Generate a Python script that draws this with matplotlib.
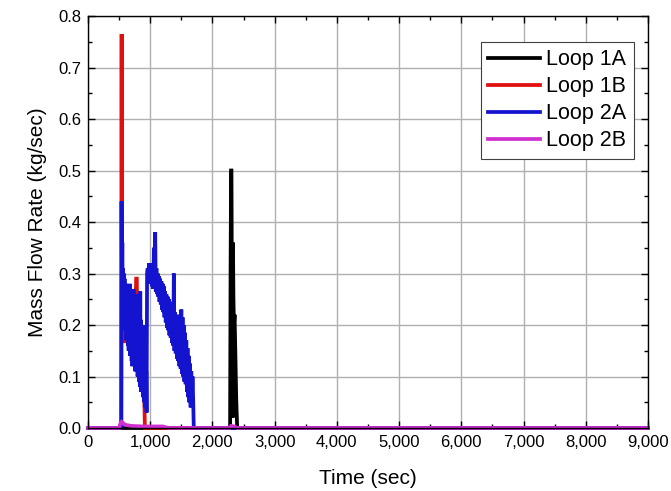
import matplotlib
matplotlib.use("Agg")
import matplotlib.pyplot as plt
from matplotlib.ticker import MultipleLocator, FuncFormatter

plt.rcParams['font.family'] = ['Liberation Sans', 'DejaVu Sans']

# ---- data ----
loop1a_t = [0, 2280, 2284, 2292, 2300, 2306, 2312, 2318, 2324, 2330, 2338, 2346, 2356, 2368, 2382, 2398, 9000]
loop1a_v = [0, 0, 0.0, 0.31, 0.50, 0.50, 0.30, 0.12, 0.02, 0.36, 0.25, 0.20, 0.22, 0.15, 0.06, 0.0, 0.0]

loop1b_t = [0, 520, 534, 538, 541, 544, 548, 554, 560, 566, 572, 578, 586, 594, 602, 610, 618, 626, 634,
            642, 650, 660, 670, 680, 690, 700, 710, 720, 730, 740, 750, 760, 768, 776, 784, 790, 798,
            806, 814, 822, 830, 840, 850, 860, 870, 880, 890, 900, 908, 915, 9000]
loop1b_v = [0, 0, 0.0, 0.50, 0.765, 0.50, 0.30, 0.24, 0.26, 0.20, 0.22, 0.17, 0.19, 0.165, 0.18, 0.17, 0.20, 0.17, 0.21,
            0.19, 0.22, 0.20, 0.23, 0.21, 0.22, 0.20, 0.23, 0.21, 0.22, 0.20, 0.22, 0.20, 0.26, 0.29, 0.29, 0.24, 0.22,
            0.20, 0.21, 0.19, 0.20, 0.18, 0.17, 0.15, 0.14, 0.12, 0.10, 0.07, 0.04, 0.0, 0.0]

loop2a_t = [0, 530, 536, 540, 546, 552, 558, 564, 570, 576, 582, 588, 594, 600, 606, 612, 618, 624, 630,
            636, 642, 648, 654, 660, 666, 672, 678, 684, 690, 696, 702, 708, 714, 720, 726, 732, 738,
            744, 750, 756, 762, 768, 774, 780, 786, 792, 798, 804, 810, 816, 822, 828, 834, 840, 846,
            852, 858, 864, 870, 876, 882, 888, 894, 900, 906, 912, 918, 924, 930, 936, 942, 950,
            960, 970, 980, 990, 1000, 1010, 1020, 1030, 1040, 1050, 1060, 1070, 1080, 1090, 1100,
            1110, 1120, 1130, 1140, 1150, 1160, 1170, 1180, 1190, 1200, 1210, 1220, 1230, 1240, 1250,
            1260, 1270, 1280, 1290, 1300, 1310, 1320, 1330, 1340, 1350, 1360, 1370, 1380, 1390, 1400,
            1410, 1420, 1430, 1440, 1450, 1460, 1470, 1480, 1490, 1500, 1510, 1520, 1530, 1540, 1550,
            1560, 1570, 1580, 1590, 1600, 1610, 1620, 1630, 1640, 1650, 1660, 1670, 1680, 1690, 1700, 9000]
loop2a_v = [0, 0.0, 0.005, 0.44, 0.30, 0.36, 0.26, 0.31, 0.22, 0.30, 0.20, 0.29, 0.19, 0.28, 0.22, 0.28, 0.17, 0.27, 0.18,
            0.26, 0.16, 0.25, 0.15, 0.24, 0.17, 0.28, 0.14, 0.25, 0.15, 0.23, 0.13, 0.25, 0.12, 0.24, 0.13, 0.27, 0.14,
            0.24, 0.12, 0.23, 0.11, 0.22, 0.12, 0.26, 0.11, 0.25, 0.10, 0.22, 0.11, 0.21, 0.09, 0.23, 0.08, 0.265, 0.09,
            0.21, 0.07, 0.20, 0.08, 0.19, 0.06, 0.18, 0.06, 0.20, 0.05, 0.16, 0.04, 0.15, 0.05, 0.11, 0.03, 0.30,
            0.31, 0.28, 0.32, 0.285, 0.31, 0.28, 0.32, 0.275, 0.31, 0.27, 0.35, 0.27, 0.38, 0.265, 0.31,
            0.26, 0.30, 0.255, 0.295, 0.245, 0.29, 0.24, 0.285, 0.23, 0.28, 0.225, 0.275, 0.215, 0.265, 0.205,
            0.26, 0.195, 0.255, 0.19, 0.25, 0.18, 0.245, 0.175, 0.235, 0.165, 0.23, 0.16, 0.30, 0.15, 0.225,
            0.145, 0.22, 0.135, 0.215, 0.13, 0.21, 0.12, 0.22, 0.115, 0.23, 0.105, 0.215, 0.10, 0.20, 0.09,
            0.185, 0.085, 0.17, 0.07, 0.155, 0.06, 0.14, 0.05, 0.125, 0.04, 0.11, 0.05, 0.10, 0.06, 0.0, 0.0]

loop2b_t = [0, 500, 520, 540, 560, 580, 600, 700, 900, 1200, 1300, 2280, 2300, 2350, 2400, 9000]
loop2b_v = [0, 0.0, 0.008, 0.012, 0.010, 0.008, 0.006, 0.004, 0.003, 0.003, 0.0, 0.0, 0.004, 0.003, 0.0, 0.0]

series_names = ["Loop 1A", "Loop 1B", "Loop 2A", "Loop 2B"]
series_colors = ["#000000", "#e01010", "#1414d0", "#d030d0"]

# ---- figure ----
fig = plt.figure(figsize=(6.71, 4.91), dpi=100)
ax = fig.add_axes([0.1311, 0.1283, 0.8346, 0.8391])

data = [(loop1a_t, loop1a_v), (loop1b_t, loop1b_v), (loop2a_t, loop2a_v), (loop2b_t, loop2b_v)]
for (t, v), name, c in zip(data, series_names, series_colors):
    ax.plot(t, v, color=c, lw=2.7, label=name, clip_on=False, solid_joinstyle='miter')

ax.set_xlim(0, 9000)
ax.set_ylim(0, 0.8)
ax.xaxis.set_major_locator(MultipleLocator(1000))
ax.xaxis.set_minor_locator(MultipleLocator(500))
ax.yaxis.set_major_locator(MultipleLocator(0.1))
ax.yaxis.set_minor_locator(MultipleLocator(0.05))
ax.xaxis.set_major_formatter(FuncFormatter(lambda x, p: f"{int(round(x)):,}"))
ax.yaxis.set_major_formatter(FuncFormatter(lambda y, p: f"{y:.1f}"))

ax.tick_params(which='both', direction='in', top=True, right=True, labelsize=12, width=1.0)
ax.tick_params(which='major', length=5, pad=5)
ax.tick_params(which='minor', length=3)
ax.grid(True, which='major', color='#b0b0b0', lw=1.0)
ax.set_axisbelow(True)
for sp in ax.spines.values():
    sp.set_linewidth(1.0)

ax.set_xlabel("Time (sec)", fontsize=15, labelpad=14)
ax.set_ylabel("Mass Flow Rate (kg/sec)", fontsize=15, labelpad=8)

leg = ax.legend(loc='upper right', bbox_to_anchor=(0.975, 0.9376), fontsize=15.5,
                fancybox=False, framealpha=1, edgecolor='#404040', handlelength=2.4,
                handletextpad=0.3, borderpad=0.35, labelspacing=0.28, borderaxespad=0)
leg.get_frame().set_linewidth(0.8)

fig.savefig("out.png", dpi=100)
